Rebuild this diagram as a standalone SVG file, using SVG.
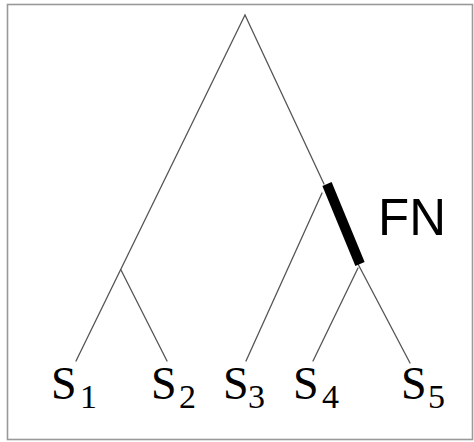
<svg xmlns="http://www.w3.org/2000/svg" width="474" height="442" viewBox="0 0 474 442">
<style>
.e{stroke:#555;stroke-width:1.3;fill:none;stroke-linecap:round}
.s{font-family:"Liberation Serif","Times New Roman",serif;font-size:46px;fill:#000}
.d{font-family:"Liberation Serif","Times New Roman",serif;font-size:34px;fill:#000}
.fn{font-family:"Liberation Sans",Arial,sans-serif;font-size:51px;fill:#000}
</style>
<rect x="7.5" y="4.5" width="465" height="435" fill="#fff" stroke="#999" stroke-width="1.6"/>
<g id="connectors">
<line class="e" x1="245" y1="15" x2="76" y2="361"/>
<line class="e" x1="121" y1="270" x2="167" y2="361"/>
<line class="e" x1="245" y1="15" x2="324" y2="184"/>
<line class="e" x1="322" y1="193" x2="246" y2="361"/>
<line class="e" x1="358" y1="268" x2="313" y2="361"/>
<line class="e" x1="358" y1="264" x2="410" y2="363"/>
<line id="fn-bar" x1="327" y1="184" x2="360" y2="264" stroke="#000" stroke-width="10"/>
</g>
<g id="s1"><text class="s" x="51" y="399">S</text><text class="d" x="80" y="408">1</text></g>
<g id="s2"><text class="s" x="151" y="399">S</text><text class="d" x="179" y="408">2</text></g>
<g id="s3"><text class="s" x="223" y="399">S</text><text class="d" x="248" y="408">3</text></g>
<g id="s4"><text class="s" x="293" y="399">S</text><text class="d" x="322" y="408">4</text></g>
<g id="s5"><text class="s" x="401" y="399">S</text><text class="d" x="428" y="408">5</text></g>
<g id="fn"><text class="fn" x="378" y="235">FN</text></g>
</svg>
